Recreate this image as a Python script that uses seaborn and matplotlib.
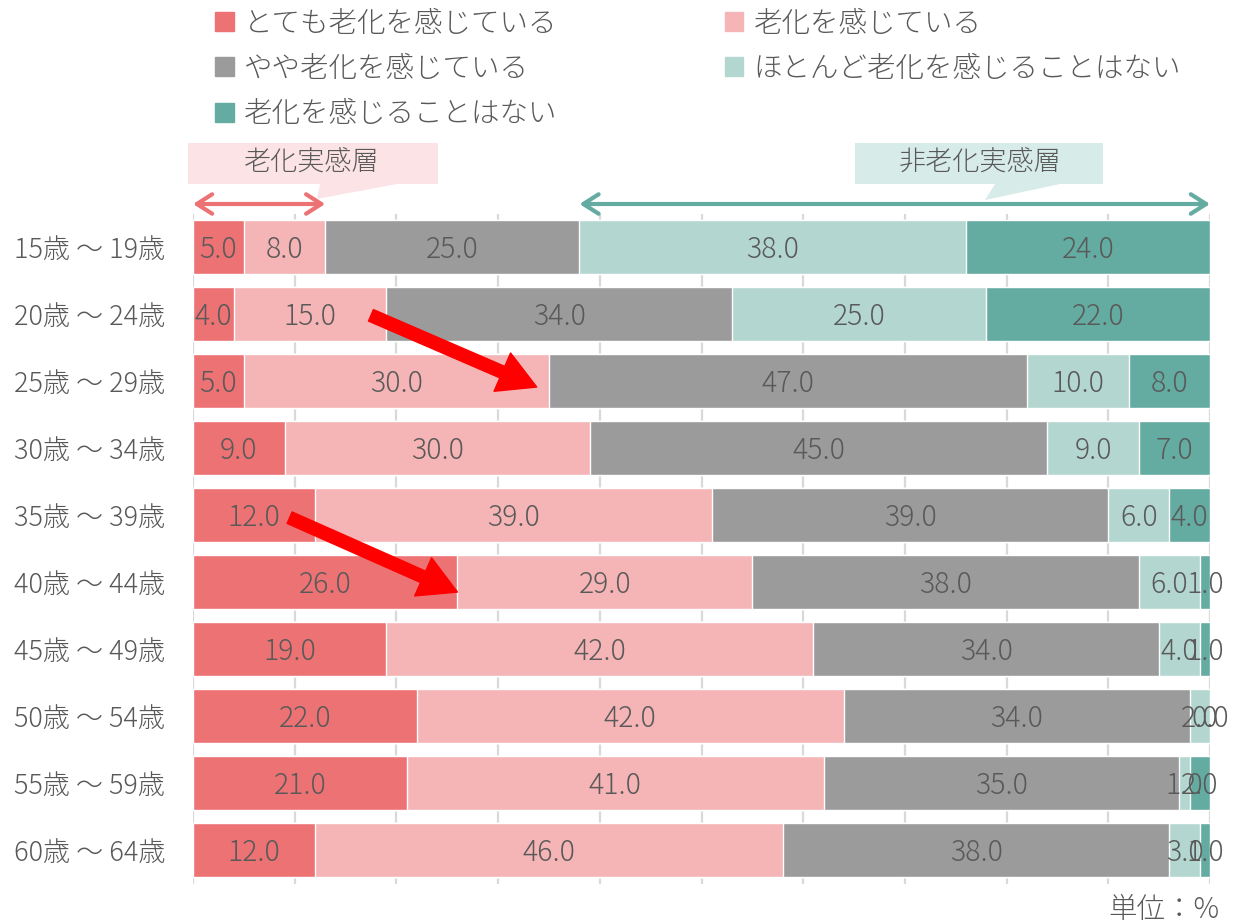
import numpy as np
import pandas as pd
import matplotlib
matplotlib.use("Agg")
import matplotlib.pyplot as plt
import matplotlib.patches as mpatches
import seaborn as sns

# ---- data ----
ages = ["15歳 ～ 19歳", "20歳 ～ 24歳", "25歳 ～ 29歳", "30歳 ～ 34歳", "35歳 ～ 39歳",
        "40歳 ～ 44歳", "45歳 ～ 49歳", "50歳 ～ 54歳", "55歳 ～ 59歳", "60歳 ～ 64歳"]
series_names = ["とても老化を感じている", "老化を感じている", "やや老化を感じている",
                "ほとんど老化を感じることはない", "老化を感じることはない"]
very_strong = [5, 4, 5, 9, 12, 26, 19, 22, 21, 12]
feel = [8, 15, 30, 30, 39, 29, 42, 42, 41, 46]
somewhat = [25, 34, 47, 45, 39, 38, 34, 34, 35, 38]
hardly = [38, 25, 10, 9, 6, 6, 4, 2, 1, 3]
never = [24, 22, 8, 7, 4, 1, 1, 0, 2, 1]
colors = ["#EC7274", "#F5B4B5", "#9B9B9B", "#B3D7D0", "#64ABA1"]
group_labels = ["老化実感層", "非老化実感層"]
unit_label = "単位：%"

sns.set_theme(style="white")
plt.rcParams['font.family'] = ['Noto Sans CJK JP', 'DejaVu Sans']
TXT = "#595959"

vals = np.array([very_strong, feel, somewhat, hardly, never], dtype=float)  # (5, 10)
cum = np.cumsum(vals, axis=0)
df = pd.DataFrame({"age": ages})
for i in range(5):
    df[f"cum{i}"] = cum[i]

W, H = 1242, 924
fig = plt.figure(figsize=(W / 100, H / 100), dpi=100)
ax_left, ax_right = 193 / W, 1210 / W
ax_top, ax_bot = 1 - 213.5 / H, 1 - 883.5 / H
ax = fig.add_axes([ax_left, ax_bot, ax_right - ax_left, ax_top - ax_bot])

for i in range(4, -1, -1):
    sns.barplot(data=df, x=f"cum{i}", y="age", color=colors[i], orient="h",
                width=0.82, saturation=1, errorbar=None, ax=ax, zorder=2)

ax.set_xlim(0, 100)
ax.set_ylim(9.5, -0.5)
ax.set_xticks(np.arange(0, 101, 10))
ax.set_xticklabels([])
ax.grid(axis="x", color="#D9D9D9", lw=1.6, zorder=0)
ax.grid(axis="y", visible=False)
ax.set_axisbelow(True)
for s in ax.spines.values():
    s.set_visible(False)
ax.set_xlabel("")
ax.set_ylabel("")
ax.tick_params(axis="y", length=0, pad=20, labelsize=19.5, labelcolor=TXT)
ax.tick_params(axis="x", length=0)
for lab in ax.get_yticklabels():
    lab.set_fontweight("light")

# data labels
for r in range(len(ages)):
    for i in range(5):
        left = cum[i, r] - vals[i, r]
        ax.text(left + vals[i, r] / 2, r + 0.04, f"{vals[i, r]:.1f}", ha="center", va="center",
                fontsize=20.5, color=TXT, fontweight="light", zorder=5)

# legend
handles = [mpatches.Patch(color=c, label=n) for c, n in zip(colors, series_names)]
order = [0, 2, 4, 1, 3]
leg = fig.legend([handles[k] for k in order], [series_names[k] for k in order],
                 loc="upper left", bbox_to_anchor=(215 / W, 1 - 8 / H), ncol=2,
                 frameon=False, fontsize=20.5, handlelength=0.65, handleheight=0.65,
                 handletextpad=0.35, columnspacing=5.9, labelspacing=0.52,
                 borderpad=0, borderaxespad=0)
for t in leg.get_texts():
    t.set_color(TXT)
    t.set_fontweight("light")

# group callouts
def fx(px):
    return px / W

def fy(py):
    return 1 - py / H

# pink box
fig.patches.append(mpatches.Polygon(
    [(fx(188), fy(143)), (fx(438), fy(143)), (fx(438), fy(184)), (fx(397), fy(184)),
     (fx(317), fy(199)), (fx(320), fy(184)), (fx(188), fy(184))],
    closed=True, transform=fig.transFigure, facecolor="#FCE4E6", edgecolor="none"))
fig.text(fx(312), fy(163), group_labels[0], ha="center", va="center", fontsize=19.5,
         color=TXT, fontweight="light")
# teal box
fig.patches.append(mpatches.Polygon(
    [(fx(855), fy(143)), (fx(1103), fy(143)), (fx(1103), fy(184)), (fx(1060), fy(184)),
     (fx(985), fy(200)), (fx(995), fy(184)), (fx(855), fy(184))],
    closed=True, transform=fig.transFigure, facecolor="#D7EBE8", edgecolor="none"))
fig.text(fx(980), fy(163), group_labels[1], ha="center", va="center", fontsize=19.5,
         color=TXT, fontweight="light")

# double arrows spanning the groups (row 1 boundaries)
y_arr = fy(204)
pink_end = cum[1, 0]
teal_start = cum[2, 0]
ax.annotate("", xy=(pink_end, y_arr), xytext=(0, y_arr),
            xycoords=("data", "figure fraction"), textcoords=("data", "figure fraction"),
            arrowprops=dict(arrowstyle="<->,head_length=0.55,head_width=0.35", color="#EC7274",
                            lw=3, shrinkA=0, shrinkB=0, mutation_scale=20), annotation_clip=False)
ax.annotate("", xy=(100, y_arr), xytext=(teal_start, y_arr),
            xycoords=("data", "figure fraction"), textcoords=("data", "figure fraction"),
            arrowprops=dict(arrowstyle="<->,head_length=0.55,head_width=0.35", color="#64ABA1",
                            lw=3, shrinkA=0, shrinkB=0, mutation_scale=20), annotation_clip=False)

# red trend arrows
for (x0, y0), (x1, y1) in [((17.5, 1.02), (33.8, 2.09)), ((9.5, 4.04), (26.0, 5.15))]:
    ax.annotate("", xy=(x1, y1), xytext=(x0, y0),
                arrowprops=dict(arrowstyle="simple,head_length=1.35,head_width=1.5,tail_width=0.45",
                                color="#FF0000", shrinkA=0, shrinkB=0, mutation_scale=20),
                zorder=6)

fig.text(fx(1220), fy(910), unit_label, ha="right", va="center", fontsize=20.5, color=TXT,
         fontweight="light")

fig.savefig("out.png", dpi=100)
